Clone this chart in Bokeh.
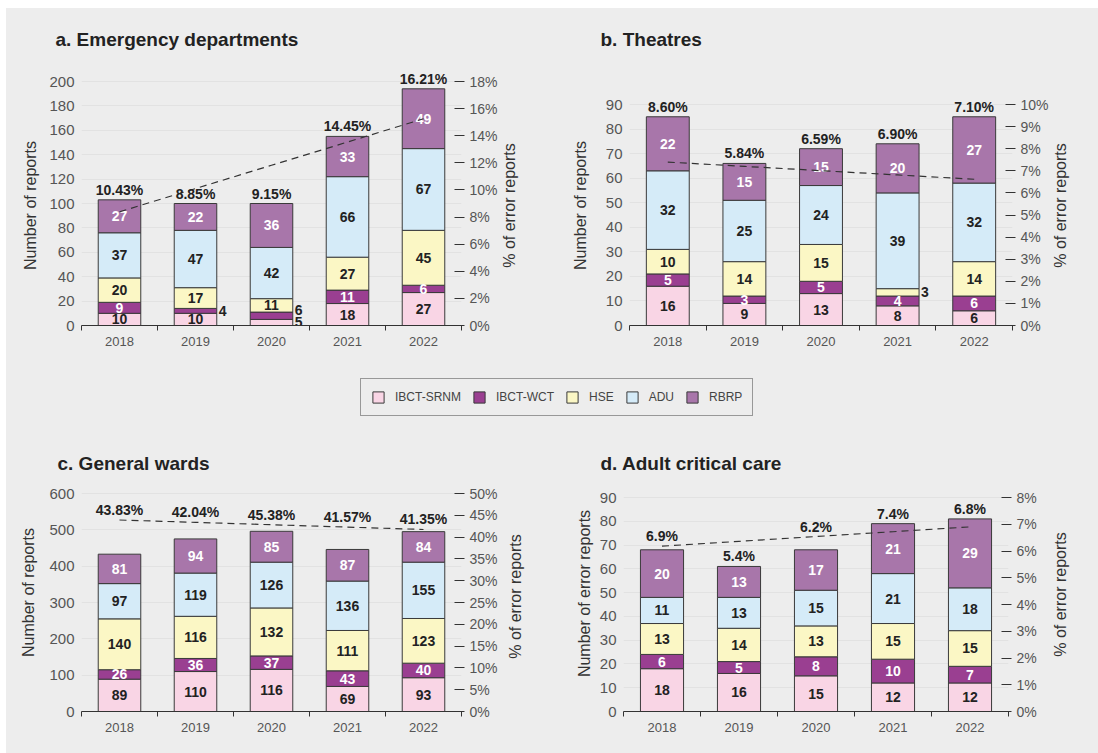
import math
import numpy as np
from bokeh.plotting import figure
from bokeh.models import (Range1d, LinearAxis, FixedTicker, Legend, LegendItem,
                          ColumnDataSource)
from bokeh.layouts import column, row
from bokeh.core.properties import value
from bokeh.embed import file_html
from bokeh.resources import INLINE

# ---------------- data ----------------
years = ["2018", "2019", "2020", "2021", "2022"]
series = ["IBCT-SRNM", "IBCT-WCT", "HSE", "ADU", "RBRP"]

# a. Emergency departments
ed_srnm = [10, 10, 5, 18, 27]
ed_wct = [9, 4, 6, 11, 6]
ed_hse = [20, 17, 11, 27, 45]
ed_adu = [37, 47, 42, 66, 67]
ed_rbrp = [27, 22, 36, 33, 49]
ed_pct = [10.43, 8.85, 9.15, 14.45, 16.21]

# b. Theatres
th_srnm = [16, 9, 13, 8, 6]
th_wct = [5, 3, 5, 4, 6]
th_hse = [10, 14, 15, 3, 14]
th_adu = [32, 25, 24, 39, 32]
th_rbrp = [22, 15, 15, 20, 27]
th_pct = [8.60, 5.84, 6.59, 6.90, 7.10]

# c. General wards
gw_srnm = [89, 110, 116, 69, 93]
gw_wct = [26, 36, 37, 43, 40]
gw_hse = [140, 116, 132, 111, 123]
gw_adu = [97, 119, 126, 136, 155]
gw_rbrp = [81, 94, 85, 87, 84]
gw_pct = [43.83, 42.04, 45.38, 41.57, 41.35]

# d. Adult critical care
cc_srnm = [18, 16, 15, 12, 12]
cc_wct = [6, 5, 8, 10, 7]
cc_hse = [13, 14, 13, 15, 15]
cc_adu = [11, 13, 15, 21, 18]
cc_rbrp = [20, 13, 17, 21, 29]
cc_pct = [6.9, 5.4, 6.2, 7.4, 6.8]

# ---------------- style ----------------
FONT = "Liberation Sans"
BG = "#ededed"
OUTLINE = "#3a3a3a"
colors = ["#f9d5e5", "#9a3f91", "#fbf7c5", "#d5ebf8", "#a876aa"]
text_on = ["#222222", "#ffffff", "#222222", "#222222", "#ffffff"]


def base_fig(w, h, bl, br, bt, bb, xr, yr):
    return figure(width=w, height=h, x_range=xr, y_range=yr,
                  output_backend="svg", toolbar_location=None,
                  min_border_left=bl, min_border_right=br, min_border_top=bt,
                  min_border_bottom=bb, background_fill_color=BG,
                  border_fill_color=BG, outline_line_color=None)


def side_label(text, x0, x1, fig_y, h, bt, bb, cx, cy):
    """Narrow strip holding a rotated axis title (page coordinates)."""
    s = base_fig(x1 - x0, h, 0, 0, bt, bb, Range1d(x0, x1),
                 Range1d(fig_y + h - bb, fig_y + bt))
    s.xaxis.visible = False
    s.yaxis.visible = False
    s.grid.visible = False
    s.text(x=[cx], y=[cy], text=[text], angle=math.pi / 2, text_align="center",
           text_baseline="middle", text_font=value(FONT), text_font_size="16px",
           text_color="#333333")
    return s


def make_panel(title, counts, pct, ymax, ystep, pmax, pstep, fmt,
               anchors, outside, w, h, bl, br, bt, bb, pad_top, t_off, t_stand):
    frame_h = h - bt - bb
    frame_w = w - bl - br
    yr_max = ymax * frame_h / (frame_h - pad_top)
    pr_max = pmax * frame_h / (frame_h - pad_top)
    p = base_fig(w, h, bl, br, bt, bb, Range1d(0, 5), Range1d(0, yr_max))
    p.extra_y_ranges = {"pct": Range1d(0, pr_max)}
    pxy = yr_max / frame_h
    pxx = 5.0 / frame_w

    xs = [i + 0.5 for i in range(len(years))]
    data = {"x": xs}
    for s, vals in zip(series, counts):
        data[s] = vals
    src = ColumnDataSource(data)
    p.vbar_stack(series, x="x", width=0.56, fill_color=colors, line_color=OUTLINE,
                 line_width=1, source=src)

    # segment labels
    bottoms = np.zeros(len(years))
    in_x, in_y, in_t, in_c = [], [], [], []
    out_x, out_y, out_t = [], [], []
    for si, s in enumerate(series):
        vals = np.array(counts[si], dtype=float)
        mids = bottoms + vals / 2
        for i in range(len(years)):
            key = (i, s)
            if key in outside:
                out_x.append(xs[i] + 0.28 + 2 * pxx)
                out_y.append(mids[i] + outside[key] * pxy)
                out_t.append(str(counts[si][i]))
            else:
                in_x.append(xs[i])
                in_y.append(mids[i])
                in_t.append(str(counts[si][i]))
                in_c.append(text_on[si])
        bottoms = bottoms + vals
    totals = bottoms

    p.text(x=in_x, y=in_y, text=in_t, text_color=in_c, text_align="center",
           text_baseline="middle", text_font=value(FONT), text_font_size="14px",
           text_font_style="bold")
    if out_x:
        p.text(x=out_x, y=out_y, text=out_t, text_color="#222222", text_align="left",
               text_baseline="middle", text_font=value(FONT), text_font_size="14px",
               text_font_style="bold")

    # linear trend of the percentages
    idx = np.arange(len(years))
    coef = np.polyfit(idx, np.array(pct), 1)
    trend = np.polyval(coef, idx)
    p.line(x=xs, y=list(trend), y_range_name="pct", line_color="#333333",
           line_width=1.2, line_dash="7 5")

    # percentage labels
    trend_left = trend / pmax * ymax
    py = []
    for i in range(len(years)):
        base = totals[i] if anchors[i] == "bar" else max(totals[i], trend_left[i])
        py.append(base + 10 * pxy)
    p.text(x=xs, y=py, text=[fmt.format(v) for v in pct], text_color="#222222",
           text_align="center", text_baseline="middle", text_font=value(FONT),
           text_font_size="14px", text_font_style="bold")

    # x axis
    xa = p.xaxis[0]
    xa.ticker = FixedTicker(ticks=xs, minor_ticks=list(range(len(years) + 1)))
    xa.major_label_overrides = {x: y for x, y in zip(xs, years)}
    xa.major_tick_line_color = None
    xa.major_tick_out = 0
    xa.major_tick_in = 0
    xa.minor_tick_line_color = "#333333"
    xa.minor_tick_in = 0
    xa.minor_tick_out = 5
    xa.axis_line_color = "#333333"
    xa.major_label_text_font = FONT
    xa.major_label_text_font_size = "13px"
    xa.major_label_text_color = "#555555"
    xa.major_label_standoff = 6
    p.xgrid.visible = False

    # left axis
    lt = FixedTicker(ticks=list(range(0, ymax + 1, ystep)))
    ya = p.yaxis[0]
    ya.ticker = lt
    ya.axis_line_color = None
    ya.major_tick_line_color = None
    ya.major_tick_out = 0
    ya.major_tick_in = 0
    ya.minor_tick_line_color = None
    ya.major_label_standoff = 7
    ya.major_label_text_font = FONT
    ya.major_label_text_font_size = "15px"
    ya.major_label_text_color = "#555555"
    p.ygrid.ticker = lt
    p.ygrid.grid_line_color = "#e2e2e2"

    # right axis
    rticks = list(range(0, pmax + 1, pstep))
    ra = LinearAxis(y_range_name="pct", ticker=FixedTicker(ticks=rticks))
    ra.major_label_overrides = {v: f"{v}%" for v in rticks}
    ra.axis_line_color = None
    ra.major_tick_in = 7
    ra.major_tick_out = 3
    ra.major_tick_line_color = "#333333"
    ra.minor_tick_line_color = None
    ra.major_label_standoff = 5
    ra.major_label_text_font = FONT
    ra.major_label_text_font_size = "14px"
    ra.major_label_text_color = "#555555"
    p.add_layout(ra, "right")

    # title
    p.title.text = title
    p.title.text_font = FONT
    p.title.text_font_size = "19px"
    p.title.text_font_style = "bold"
    p.title.text_color = "#222222"
    p.title.align = "left"
    p.title.offset = t_off
    p.title.standoff = t_stand
    return p


RLAB = "% of error reports"

# top row (page y 8..370)
la = side_label("Number of reports", 6, 46, 8, 362, 54, 45, 30, 205)
pa = make_panel("a. Emergency departments",
                [ed_srnm, ed_wct, ed_hse, ed_adu, ed_rbrp], ed_pct,
                200, 20, 18, 2, "{:.2f}%", ["bar"] * 5,
                {(1, "IBCT-WCT"): 0, (2, "IBCT-WCT"): 6, (2, "IBCT-SRNM"): 0},
                454, 362, 33, 38, 54, 45, 19, -26, 26)
ra_ = side_label(RLAB, 500, 549, 8, 362, 54, 45, 509, 205)
lb = side_label("Number of reports", 549, 600, 8, 362, 54, 45, 580, 205)
pb = make_panel("b. Theatres",
                [th_srnm, th_wct, th_hse, th_adu, th_rbrp], th_pct,
                90, 10, 10, 1, "{:.2f}%", ["bar"] * 5,
                {(3, "HSE"): 0},
                451, 362, 29, 38, 54, 45, 42, -29, 26)
rb = side_label(RLAB, 1051, 1098, 8, 362, 54, 45, 1060, 205)

# bottom row (page y 430..753)
lc = side_label("Number of reports", 6, 46, 430, 323, 60, 42, 28, 592)
pc = make_panel("c. General wards",
                [gw_srnm, gw_wct, gw_hse, gw_adu, gw_rbrp], gw_pct,
                600, 100, 50, 5, "{:.2f}%", ["line"] * 5,
                {},
                454, 323, 33, 38, 60, 42, 3, -24, 34)
rc = side_label(RLAB, 500, 549, 430, 323, 60, 42, 515, 596)
ld = side_label("Number of error reports", 549, 596, 430, 323, 60, 42, 584, 593)
pd_ = make_panel("d. Adult critical care",
                 [cc_srnm, cc_wct, cc_hse, cc_adu, cc_rbrp], cc_pct,
                 90, 10, 8, 1, "{:.1f}%", ["line", "bar", "line", "bar", "bar"],
                 {},
                 450, 323, 27, 38, 60, 42, 7, -23, 34)
rd = side_label(RLAB, 1046, 1098, 430, 323, 60, 42, 1060, 594)

# legend strip (dummy swatch glyphs sit hidden behind the opaque legend box)
leg = figure(width=1092, height=60, x_range=Range1d(0, 1), y_range=Range1d(0, 1),
             output_backend="svg", toolbar_location=None, min_border=0,
             background_fill_color=BG, border_fill_color=BG, outline_line_color=None,
             x_axis_location=None, y_axis_location=None)
leg.grid.visible = False
items = []
for s, c in zip(series, colors):
    r = leg.vbar(x=[0.5], bottom=[0.45], top=[0.55], width=0.005, fill_color=c,
                 line_color=OUTLINE)
    items.append(LegendItem(label=s, renderers=[r]))
legend = Legend(items=items, orientation="horizontal", location=(354, 14),
                glyph_width=14, glyph_height=14, label_standoff=10, spacing=11,
                padding=10, label_height=16, margin=0,
                label_text_font=FONT, label_text_font_size="12px",
                label_text_color="#444444", border_line_color="#444444",
                border_line_width=1, background_fill_color=BG,
                background_fill_alpha=1.0)
leg.add_layout(legend, "center")

top_row = row(la, pa, ra_, lb, pb, rb, spacing=0)
bot_row = row(lc, pc, rc, ld, pd_, rd, spacing=0)
layout = column(top_row, leg, bot_row, spacing=0)
for el in (top_row, bot_row, layout):
    el.styles = {"background-color": BG}
layout.margin = (8, 0, 0, 6)

open("out.html", "w").write(file_html(layout, INLINE))
